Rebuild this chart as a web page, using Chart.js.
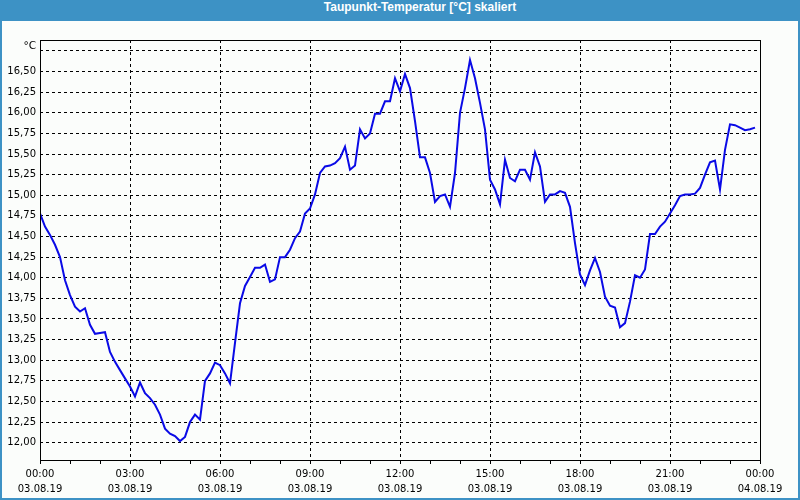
<!DOCTYPE html>
<html>
<head>
<meta charset="utf-8">
<title>Taupunkt-Temperatur</title>
<script src="https://cdn.jsdelivr.net/npm/chart.js@4/dist/chart.umd.min.js"></script>
<style>
  html, body { margin: 0; padding: 0; }
  body { width: 800px; height: 500px; overflow: hidden; background: #fbfdfb; position: relative; }
  #frame { position: absolute; left: 0; top: 0; width: 800px; height: 500px; box-sizing: border-box;
           border: 2px solid #3d92c5; border-top: none; }
  #title { position: absolute; left: 0; top: 0; width: 800px; height: 21px; background: #3d92c5; }
  #title span { position: absolute; left: 20px; width: 800px; text-align: center; top: 0; line-height: 22px;
                color: #fff; font: bold 12px "Liberation Sans", Arial, sans-serif; }
  #chart { position: absolute; left: 0; top: 0; }
</style>
</head>
<body>
<div id="frame"></div>
<div id="title"><span>Taupunkt-Temperatur [°C] skaliert</span></div>
<canvas id="chart" width="800" height="500"></canvas>
<script>
// Dew point readings, one every 10 minutes from 00:00 to 23:50 (03.08.19)
const sampleMinutes = 10;
const dewPoint = [
  14.78, 14.62, 14.52, 14.40, 14.25, 13.97, 13.79, 13.65, 13.59, 13.63,
  13.43, 13.32, 13.33, 13.34, 13.10, 12.98, 12.88, 12.78, 12.68, 12.56,
  12.73, 12.60, 12.54, 12.46, 12.34, 12.17, 12.11, 12.08, 12.02, 12.07,
  12.25, 12.34, 12.28, 12.75, 12.84, 12.97, 12.94, 12.84, 12.72, 13.21,
  13.69, 13.90, 14.01, 14.12, 14.12, 14.16, 13.95, 13.98, 14.25, 14.25,
  14.34, 14.48, 14.56, 14.78, 14.84, 15.01, 15.27, 15.35, 15.36, 15.39,
  15.45, 15.59, 15.31, 15.36, 15.80, 15.69, 15.75, 15.99, 15.99, 16.14,
  16.14, 16.42, 16.26, 16.47, 16.30, 15.90, 15.46, 15.46, 15.27, 14.92,
  14.99, 15.01, 14.86, 15.27, 16.00, 16.30, 16.64, 16.42, 16.12, 15.80,
  15.19, 15.07, 14.89, 15.43, 15.21, 15.17, 15.31, 15.31, 15.19, 15.52,
  15.35, 14.92, 15.01, 15.01, 15.05, 15.03, 14.86, 14.42, 14.04, 13.91,
  14.09, 14.24, 14.07, 13.77, 13.66, 13.64, 13.40, 13.45, 13.71, 14.03,
  14.00, 14.10, 14.53, 14.53, 14.62, 14.68, 14.78, 14.88, 14.99, 15.01,
  15.01, 15.02, 15.09, 15.25, 15.40, 15.42, 15.07, 15.55, 15.86, 15.85,
  15.82, 15.79, 15.80, 15.82
];

const yTicks = [12.00, 12.25, 12.50, 12.75, 13.00, 13.25, 13.50, 13.75, 14.00, 14.25,
                14.50, 14.75, 15.00, 15.25, 15.50, 15.75, 16.00, 16.25, 16.50, 16.75];
const yMin = 11.79;
const yMax = 16.883;

// x axis in hours; labelled every 3 hours, small tick every hour
const xTickHours = [0, 1, 2, 3, 4, 5, 6, 7, 8, 9, 10, 11, 12, 13, 14, 15, 16, 17, 18, 19, 20, 21, 22, 23, 24];
const xTickLabels = [
  ['00:00', '03.08.19'], ['03:00', '03.08.19'], ['06:00', '03.08.19'],
  ['09:00', '03.08.19'], ['12:00', '03.08.19'], ['15:00', '03.08.19'],
  ['18:00', '03.08.19'], ['21:00', '03.08.19'], ['00:00', '04.08.19']
];

const points = dewPoint.map((v, i) => ({ x: i * sampleMinutes / 60, y: v }));

// border round the plot and the unit label above the value axis
const framePlugin = {
  id: 'frame',
  afterDraw(chart) {
    const { ctx, chartArea: a } = chart;
    ctx.save();
    ctx.strokeStyle = '#000';
    ctx.lineWidth = 1;
    ctx.strokeRect(a.left + 0.5, a.top + 0.5, a.right - a.left, a.bottom - a.top);
    ctx.fillStyle = '#000';
    ctx.font = '10.5px "DejaVu Sans", sans-serif';
    ctx.textAlign = 'right';
    ctx.textBaseline = 'middle';
    ctx.fillText('°C', a.left - 4, a.top + 6);
    ctx.restore();
  }
};

new Chart(document.getElementById('chart'), {
  type: 'line',
  data: {
    datasets: [{
      data: points,
      borderColor: '#0a0ae6',
      borderWidth: 2,
      pointRadius: 0,
      tension: 0,
      fill: false
    }]
  },
  options: {
    responsive: false,
    animation: false,
    devicePixelRatio: 1,
    layout: { padding: { top: 40, right: 40, left: 0, bottom: 0 } },
    plugins: { legend: { display: false }, tooltip: { enabled: false } },
    scales: {
      x: {
        type: 'linear',
        min: 0,
        max: 24,
        afterBuildTicks: axis => { axis.ticks = xTickHours.map(h => ({ value: h })); },
        afterFit: axis => { axis.height = 40; },
        grid: {
          color: c => (c.tick && c.tick.value % 3 === 0) ? '#000' : 'rgba(0,0,0,0)',
          tickColor: '#000',
          tickLength: 4,
          lineWidth: 1
        },
        border: { display: false, dash: [3, 3] },
        ticks: {
          autoSkip: false,
          maxRotation: 0,
          padding: 3,
          color: '#000',
          font: { family: '"DejaVu Sans", sans-serif', size: 10, lineHeight: 1.5 },
          callback: v => (v % 3 === 0) ? xTickLabels[v / 3] : ''
        }
      },
      y: {
        min: yMin,
        max: yMax,
        afterBuildTicks: axis => { axis.ticks = yTicks.map(v => ({ value: v })); },
        afterFit: axis => { axis.width = 40; },
        grid: { color: '#000', lineWidth: 1, drawTicks: false },
        border: { display: false, dash: [3, 3] },
        ticks: {
          padding: 4,
          color: '#000',
          font: { family: '"DejaVu Sans", sans-serif', size: 10 },
          callback: v => (v >= 16.7) ? '' : v.toFixed(2).replace('.', ',')
        }
      }
    }
  },
  plugins: [framePlugin]
});
</script>
</body>
</html>
